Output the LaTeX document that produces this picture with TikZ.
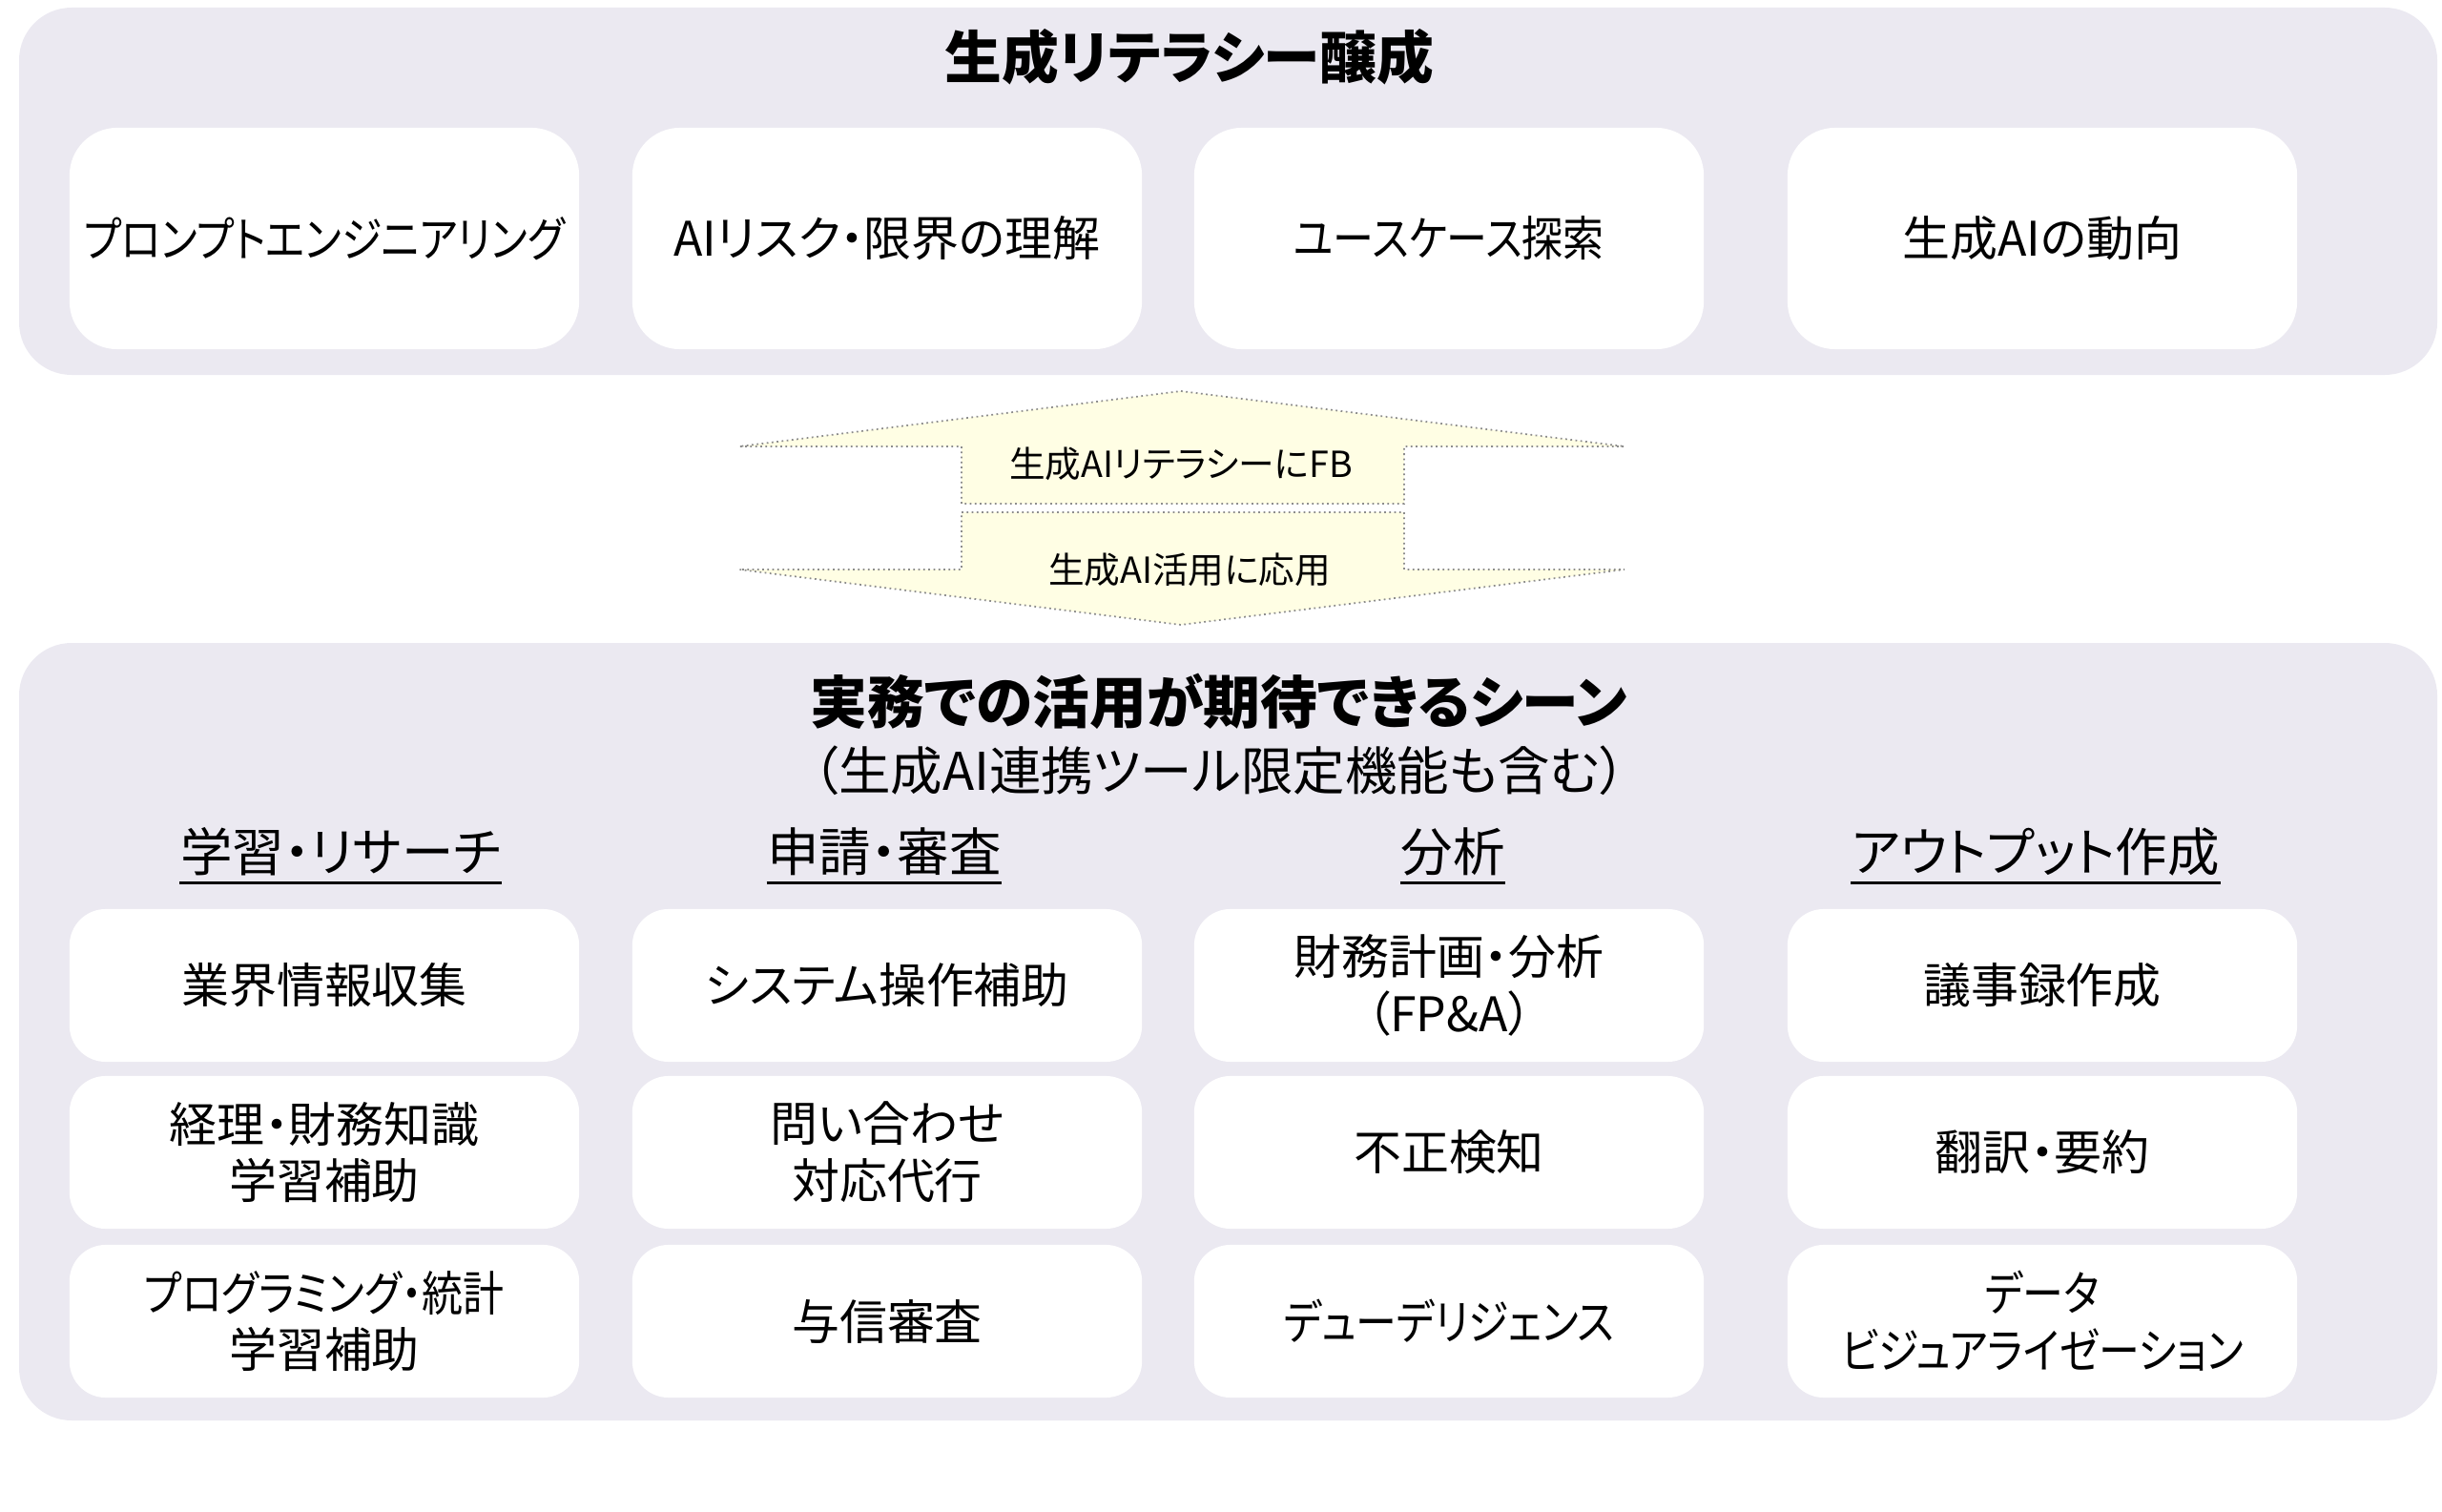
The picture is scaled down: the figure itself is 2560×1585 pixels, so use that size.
\documentclass[tikz,border=0pt]{standalone}
\usepackage{fontspec}
\setmainfont{Noto Sans CJK JP}[CharacterWidth=AlternateProportional]
\newfontfamily\narrowjp{Noto Sans CJK JP}[CharacterWidth=AlternateProportional, FakeStretch=0.86]
\usetikzlibrary{positioning}
\definecolor{panelgray}{RGB}{235,233,241}
\definecolor{arrowyellow}{RGB}{255,254,228}

\begin{document}
\begin{tikzpicture}%
	[x=0.01cm, y=-0.01cm,
	panel/.style={fill=panelgray, rounded corners=0.55cm},
	litbox/.style={rectangle, fill=white, rounded corners=0.5cm, minimum width=5.34cm, minimum height=2.32cm, align=center, font=\fontsize{14.2}{17}\selectfont},
	scenebox/.style={rectangle, fill=white, rounded corners=0.38cm, minimum width=5.34cm, minimum height=1.6cm, align=center, font=\fontsize{14.2}{17}\selectfont},
	title/.style={inner sep=0pt, font=\fontsize{17}{20}\selectfont\bfseries},
	subtitle/.style={inner sep=0pt, font=\fontsize{15.5}{18}\selectfont},
	head/.style={inner sep=0pt, anchor=base, font=\fontsize{15.5}{18}\selectfont},
	uline/.style={line width=1pt},
	fbarrow/.style={fill=arrowyellow, draw=black!45, densely dotted, line width=0.5pt},
	arrowtext/.style={inner sep=0pt, font=\fontsize{10.7}{13}\selectfont}]
	%
	\useasboundingbox (0,0) rectangle (2560,1585);
	%%
	%% Literacy panel
	%%
	\fill[panel] (20,8) rectangle (2555,393);
	\node[title] (littitle) at (1247,60) {生成リテラシー醸成};
	\node[litbox] (lit1) at (340,250) {\narrowjp プロンプトエンジニアリング};
	\node[litbox] (lit2) at (930,250) {AIリスク・限界の理解};
	\node[litbox] (lit3) at (1519,250) {\narrowjp ユースケース探索};
	\node[litbox] (lit4) at (2141,250) {生成AIの動向};
	%%
	%% Feedback arrows
	%%
	\draw[fbarrow] (1238,410) -- (1703,468) -- (1472,468) -- (1472,528) -- (1008,528) -- (1008,468) -- (775,468) -- cycle;
	\draw[fbarrow] (1008,537) -- (1472,537) -- (1472,597) -- (1703,597) -- (1238,655) -- (775,597) -- (1008,597) -- cycle;
	\node[arrowtext] (fbup) at (1238,486) {生成AIリテラシーにFB};
	\node[arrowtext] (fbdown) at (1247,597) {生成AI活用に応用};
	%%
	%% Scene panel
	%%
	\fill[panel] (20,674) rectangle (2555,1489);
	\node[title] (scenetitle) at (1278,735) {実務での活用が期待できるシーン};
	\node[subtitle] (scenesub) at (1278,808) {（生成AI連携ツール限定機能も含む）};
	%
	\node[head] (hd1) at (357,913) {学習・リサーチ};
	\node[head] (hd2) at (927,913) {申請・審査};
	\node[head] (hd3) at (1523,913) {分析};
	\node[head] (hd4) at (2134,913) {アウトプット作成};
	\draw[uline] ([yshift=-3.5pt]hd1.base west) -- ([yshift=-3.5pt]hd1.base east);
	\draw[uline] ([yshift=-3.5pt]hd2.base west) -- ([yshift=-3.5pt]hd2.base east);
	\draw[uline] ([yshift=-3.5pt]hd3.base west) -- ([yshift=-3.5pt]hd3.base east);
	\draw[uline] ([yshift=-3.5pt]hd4.base west) -- ([yshift=-3.5pt]hd4.base east);
	%
	\node[scenebox] (study1) at (340,1033) {業界情報収集};
	\node[scenebox] (study2) at (340,1208) {経理・財務知識\\学習補助};
	\node[scenebox] (study3) at (340,1385) {\narrowjp プログラミング・統計\\学習補助};
	%
	\node[scenebox] (apply1) at (930,1033) {システム操作補助};
	\node[scenebox] (apply2) at (930,1208) {問い合わせ\\対応代行};
	\node[scenebox] (apply3) at (930,1385) {与信審査};
	%
	\node[scenebox] (anly1) at (1519,1033) {財務計画・分析\\（FP\&A）};
	\node[scenebox] (anly2) at (1519,1208) {不正検知};
	\node[scenebox] (anly3) at (1519,1385) {\narrowjp デューデリジェンス};
	%
	\node[scenebox] (out1) at (2141,1033) {議事録作成};
	\node[scenebox] (out2) at (2141,1208) {翻訳・要約};
	\node[scenebox] (out3) at (2141,1385) {\narrowjp データ\\\narrowjp ビジュアライゼーション};

\end{tikzpicture}
\end{document}
